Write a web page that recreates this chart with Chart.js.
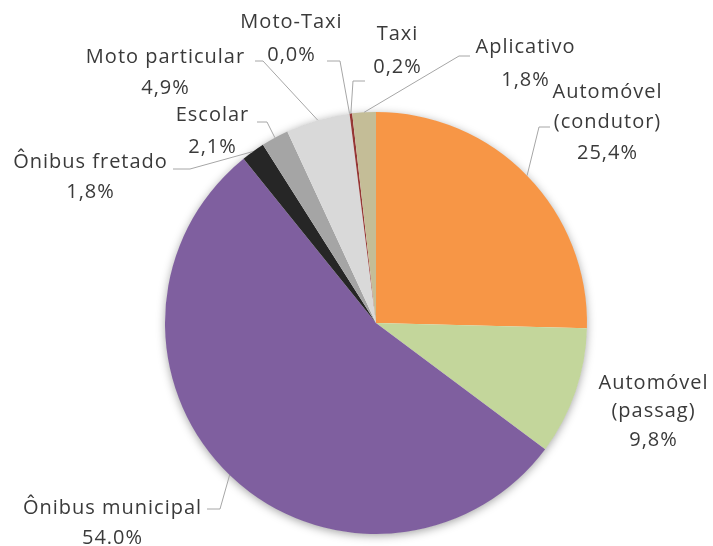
<!DOCTYPE html>
<html><head><meta charset="utf-8">
<script src="https://cdn.jsdelivr.net/npm/chart.js@4.4.0/dist/chart.umd.min.js"></script>
<style>html,body{margin:0;padding:0;background:#fff}</style>
</head><body>
<canvas id="c" width="713" height="546"></canvas>
<script>
// ---- data ----
const categories = ['Automóvel (condutor)', 'Automóvel (passag)', 'Ônibus municipal', 'Ônibus fretado', 'Escolar', 'Moto particular', 'Moto-Taxi', 'Taxi', 'Aplicativo'];
const values = [25.4, 9.8, 54.0, 1.8, 2.1, 4.9, 0.0, 0.2, 1.8];
const valueLabels = ['25,4%', '9,8%', '54.0%', '1,8%', '2,1%', '4,9%', '0,0%', '0,2%', '1,8%'];
const nameLines = [['Automóvel', '(condutor)'], ['Automóvel', '(passag)'], ['Ônibus municipal'], ['Ônibus fretado'], ['Escolar'], ['Moto particular'], ['Moto-Taxi'], ['Taxi'], ['Aplicativo']];

// ---- styles ----
const colors = ['#F79646', '#C3D69B', '#7F5F9F', '#262626', '#A5A5A5', '#D9D9D9', '#7F7F7F', '#953735', '#C4BD97'];
// text layout: center x, first line y, line height, leader [attach, elbow] (null = no leader)
const labelLayout = [
  {x: 607, y: 92, lh: 30.5, leader: [[550, 127], [539, 127]]},
  {x: 653, y: 383, lh: 28.5, leader: null},
  {x: 112, y: 508, lh: 30, leader: [[207, 509], [220, 509]]},
  {x: 90, y: 162, lh: 30, leader: [[173, 169], [190, 169]]},
  {x: 212, y: 115, lh: 32, leader: [[257, 122], [267, 122]]},
  {x: 165, y: 57, lh: 31, leader: [[255, 61], [263, 61]]},
  {x: 291, y: 22, lh: 33, leader: [[327, 61], [340, 61]]},
  {x: 397, y: 34, lh: 33, leader: [[365, 81], [353, 81]]},
  {x: 525, y: 47, lh: 33, leader: [[470, 56], [459, 56]]}
];
const FONT = '20px "Open Sans"';
const TEXT_COLOR = '#3A3A3A';
const LEADER_COLOR = '#A6A6A6';

const shadowPlugin = {
  id: 'pieShadow',
  beforeDatasetsDraw(chart) {
    const el = chart.getDatasetMeta(0).data[0];
    if (!el) return;
    const {x, y, outerRadius} = el.getProps(['x', 'y', 'outerRadius'], true);
    const ctx = chart.ctx;
    ctx.save();
    ctx.shadowColor = 'rgba(0,0,0,0.38)';
    ctx.shadowBlur = 10;
    ctx.shadowOffsetX = 0;
    ctx.shadowOffsetY = 2;
    ctx.fillStyle = '#ffffff';
    ctx.beginPath();
    ctx.arc(x, y, outerRadius - 0.5, 0, Math.PI * 2);
    ctx.fill();
    ctx.restore();
  }
};

const labelPlugin = {
  id: 'pieLabels',
  afterDatasetsDraw(chart) {
    const ctx = chart.ctx;
    const meta = chart.getDatasetMeta(0);
    ctx.save();
    meta.data.forEach((el, i) => {
      const p = el.getProps(['x', 'y', 'startAngle', 'endAngle', 'outerRadius'], true);
      const mid = (p.startAngle + p.endAngle) / 2;
      const px = p.x + Math.cos(mid) * p.outerRadius;
      const py = p.y + Math.sin(mid) * p.outerRadius;
      const L = labelLayout[i];
      if (L.leader) {
        ctx.strokeStyle = LEADER_COLOR;
        ctx.lineWidth = 1;
        ctx.beginPath();
        ctx.moveTo(L.leader[0][0], L.leader[0][1]);
        ctx.lineTo(L.leader[1][0], L.leader[1][1]);
        ctx.lineTo(px, py);
        ctx.stroke();
      }
      ctx.fillStyle = TEXT_COLOR;
      ctx.font = FONT;
      try { ctx.letterSpacing = '1px'; } catch (e) {}
      ctx.textAlign = 'center';
      ctx.textBaseline = 'middle';
      const lines = nameLines[i].concat([valueLabels[i]]);
      lines.forEach((t, k) => ctx.fillText(t, L.x + 0.5, L.y + k * L.lh));
    });
    ctx.restore();
  }
};

new Chart(document.getElementById('c'), {
  type: 'pie',
  data: {
    labels: categories,
    datasets: [{data: values, backgroundColor: colors, borderWidth: 0}]
  },
  options: {
    responsive: false,
    animation: false,
    layout: {padding: {left: 165, right: 126, top: 112, bottom: 12}},
    plugins: {legend: {display: false}, tooltip: {enabled: false}}
  },
  plugins: [shadowPlugin, labelPlugin]
});
</script>
</body></html>
